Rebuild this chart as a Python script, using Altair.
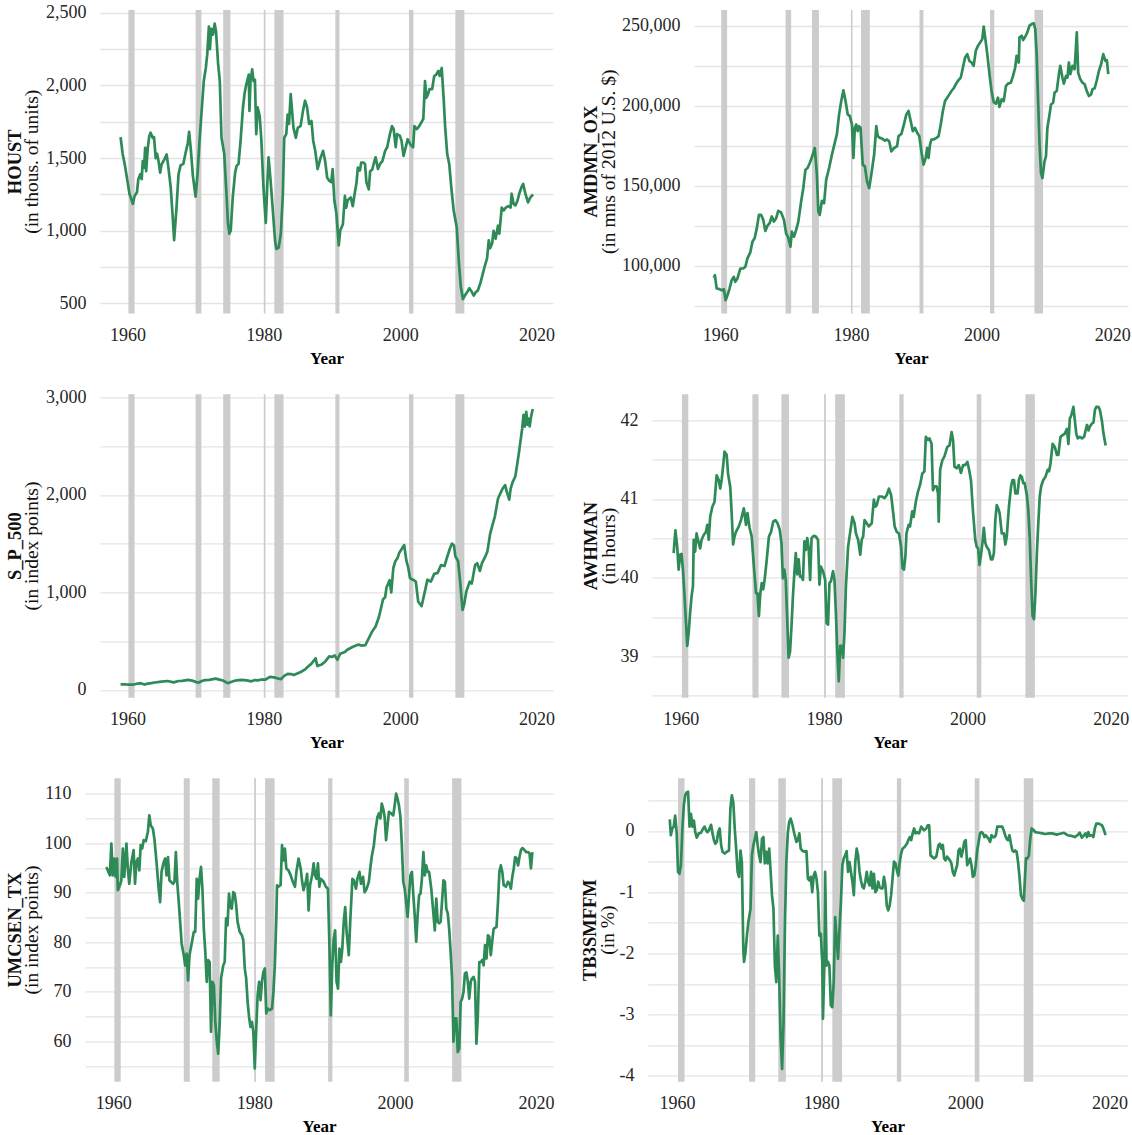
import altair as alt
import pandas as pd

FONT = "Liberation Serif"
LAB = "#262626"
GRID = "#e4e4e4"
LINE = "#2E8B57"
BAR = "#CCCCCC"

XDOM = [1955.98, 2022.42]
XTICKS = [1960, 1980, 2000, 2020]

REC_START = [1960.15, 1970.0, 1974.05, 1980.0, 1981.55, 1990.5, 2001.3, 2008.1]
REC_END = [1961.05, 1970.85, 1975.1, 1980.25, 1982.9, 1991.1, 2001.95, 2009.42]

HOUST = [[1959.0,1645],[1959.3,1530],[1959.6,1460],[1960.0,1345],[1960.3,1255],[1960.8,1185],[1961.05,1240],[1961.4,1265],[1961.6,1355],[1961.9,1390],[1962.1,1355],[1962.25,1480],[1962.45,1435],[1962.6,1570],[1962.75,1410],[1963.0,1575],[1963.2,1650],[1963.4,1675],[1963.7,1640],[1963.9,1645],[1964.15,1500],[1964.35,1530],[1964.6,1470],[1964.8,1400],[1965.0,1455],[1965.4,1490],[1965.75,1525],[1966.0,1440],[1966.35,1300],[1966.65,1090],[1966.85,935],[1967.2,1160],[1967.5,1390],[1967.8,1450],[1968.2,1460],[1968.55,1540],[1968.85,1600],[1969.05,1680],[1969.3,1560],[1969.6,1380],[1970.0,1235],[1970.3,1400],[1970.55,1600],[1970.85,1800],[1971.2,2030],[1971.5,2120],[1971.7,2210],[1971.95,2405],[1972.1,2250],[1972.3,2390],[1972.55,2350],[1972.8,2425],[1973.0,2370],[1973.3,2150],[1973.55,2030],[1973.8,1640],[1974.2,1530],[1974.5,1280],[1974.75,1050],[1974.95,980],[1975.15,1000],[1975.45,1230],[1975.8,1400],[1976.0,1445],[1976.3,1460],[1976.6,1620],[1976.95,1850],[1977.2,1950],[1977.45,2010],[1977.8,2075],[1977.9,1825],[1978.05,2030],[1978.3,2110],[1978.5,2030],[1978.7,2040],[1978.9,1665],[1979.1,1850],[1979.4,1790],[1979.65,1620],[1979.95,1300],[1980.3,1055],[1980.5,1300],[1980.7,1505],[1981.0,1345],[1981.3,1160],[1981.65,935],[1981.85,875],[1982.2,885],[1982.5,980],[1982.8,1255],[1983.0,1640],[1983.3,1665],[1983.5,1800],[1983.7,1735],[1983.95,1940],[1984.15,1825],[1984.35,1710],[1984.7,1640],[1985.0,1710],[1985.4,1720],[1985.75,1825],[1986.05,1895],[1986.35,1850],[1986.65,1735],[1987.0,1755],[1987.25,1620],[1987.55,1550],[1987.9,1425],[1988.35,1505],[1988.7,1550],[1989.0,1480],[1989.3,1365],[1989.6,1345],[1989.9,1335],[1990.1,1425],[1990.35,1210],[1990.65,1120],[1991.0,900],[1991.2,1000],[1991.6,1045],[1991.9,1240],[1992.1,1160],[1992.3,1210],[1992.75,1230],[1993.05,1170],[1993.4,1275],[1993.6,1330],[1993.8,1435],[1994.1,1415],[1994.3,1470],[1994.6,1470],[1994.85,1460],[1995.05,1335],[1995.4,1285],[1995.6,1410],[1995.9,1420],[1996.2,1475],[1996.4,1505],[1996.75,1425],[1997.05,1460],[1997.4,1480],[1997.8,1550],[1998.1,1575],[1998.5,1665],[1998.8,1720],[1999.05,1700],[1999.35,1575],[1999.55,1665],[1999.95,1655],[2000.2,1620],[2000.5,1515],[2000.8,1570],[2001.1,1630],[2001.5,1595],[2001.9,1575],[2002.1,1720],[2002.45,1700],[2002.8,1720],[2003.1,1745],[2003.4,1770],[2003.65,2030],[2003.85,1915],[2004.1,1940],[2004.3,1975],[2004.7,1975],[2005.0,2065],[2005.3,2075],[2005.6,2100],[2005.8,2065],[2006.1,2120],[2006.4,1895],[2006.6,1715],[2006.9,1530],[2007.2,1460],[2007.5,1300],[2007.85,1140],[2008.3,1025],[2008.6,795],[2008.9,615],[2009.2,530],[2009.5,555],[2009.8,575],[2010.15,605],[2010.5,580],[2010.8,555],[2011.1,578],[2011.4,589],[2011.8,645],[2012.1,700],[2012.4,755],[2012.75,810],[2013.0,935],[2013.2,880],[2013.5,915],[2013.7,1000],[2014.0,945],[2014.35,1035],[2014.55,980],[2014.9,1160],[2015.2,1140],[2015.5,1160],[2015.85,1170],[2016.2,1160],[2016.35,1255],[2016.65,1185],[2016.9,1175],[2017.2,1205],[2017.5,1260],[2017.8,1300],[2018.05,1322],[2018.4,1250],[2018.75,1195],[2019.1,1230],[2019.5,1250]]

AMDMNOX = [[1959.0,92500],[1959.18,94100],[1959.45,85800],[1959.89,85400],[1960.27,84700],[1960.55,85400],[1960.82,78500],[1961.1,81600],[1961.42,85800],[1961.75,91000],[1962.08,93100],[1962.3,90000],[1962.63,92100],[1963.07,98300],[1963.51,98300],[1963.84,99400],[1964.16,104600],[1964.6,108400],[1964.93,115100],[1965.26,117200],[1965.59,123400],[1965.92,131800],[1966.25,131800],[1966.58,128700],[1966.9,121800],[1967.23,125100],[1967.56,126600],[1967.89,130800],[1968.22,127600],[1968.55,129700],[1968.88,134300],[1969.32,133300],[1969.75,128700],[1970.08,120300],[1970.41,117600],[1970.74,111900],[1970.96,121300],[1971.29,118200],[1971.62,122400],[1971.95,127600],[1972.38,140200],[1972.71,148500],[1973.04,160000],[1973.37,161100],[1973.7,164200],[1974.03,167800],[1974.47,173600],[1974.79,156900],[1975.01,133900],[1975.23,131800],[1975.56,140600],[1975.89,139100],[1976.22,153800],[1976.66,161100],[1977.1,169500],[1977.53,176800],[1977.86,182400],[1978.19,194600],[1978.52,203000],[1978.85,209600],[1979.18,203000],[1979.51,194600],[1979.84,193500],[1980.16,188300],[1980.38,167400],[1980.6,186200],[1980.82,188300],[1981.04,184100],[1981.26,187200],[1981.48,186200],[1981.81,163200],[1982.14,162100],[1982.47,152700],[1982.79,148500],[1983.12,156900],[1983.56,169500],[1983.89,187200],[1984.11,181000],[1984.44,179900],[1984.77,179500],[1985.21,178200],[1985.53,178900],[1985.86,177800],[1986.19,171500],[1986.63,173600],[1987.07,174700],[1987.29,181000],[1987.73,182400],[1988.05,187200],[1988.49,194600],[1988.82,196700],[1989.15,190400],[1989.48,184100],[1989.81,186200],[1990.14,183100],[1990.47,181000],[1990.79,171500],[1991.12,163200],[1991.45,167400],[1991.67,173600],[1991.89,167400],[1992.11,175700],[1992.33,178900],[1992.66,178900],[1993.1,179900],[1993.42,181000],[1993.75,188300],[1994.08,196700],[1994.41,202900],[1994.74,205000],[1995.07,207100],[1995.4,209200],[1995.73,210900],[1996.05,213400],[1996.38,215500],[1996.82,217600],[1997.15,223900],[1997.48,230100],[1997.81,232200],[1998.14,228000],[1998.47,227000],[1998.79,224900],[1999.12,234300],[1999.45,237400],[1999.78,239500],[2000.11,241600],[2000.33,249400],[2000.55,242700],[2000.88,232200],[2001.21,219700],[2001.53,209200],[2001.86,202300],[2002.19,201300],[2002.52,205000],[2002.74,199200],[2003.07,204000],[2003.4,202900],[2003.73,212300],[2004.05,213800],[2004.49,214400],[2004.82,218600],[2005.15,223900],[2005.37,231200],[2005.7,227000],[2005.81,242700],[2006.14,243700],[2006.36,241000],[2006.68,243100],[2007.01,245800],[2007.34,250000],[2007.67,251000],[2008.0,251500],[2008.22,247900],[2008.44,232200],[2008.66,202900],[2008.88,175700],[2009.1,158000],[2009.32,154800],[2009.64,165300],[2009.86,168400],[2010.08,186200],[2010.41,194600],[2010.63,200800],[2010.96,201900],[2011.18,208200],[2011.51,209200],[2011.84,219700],[2012.05,224900],[2012.38,217600],[2012.6,213800],[2012.93,218600],[2013.15,217600],[2013.37,227000],[2013.59,219700],[2013.92,224900],[2014.25,222800],[2014.58,245800],[2014.79,220700],[2015.12,216500],[2015.45,214400],[2015.78,213400],[2016.11,209200],[2016.44,206100],[2016.77,207100],[2016.99,210300],[2017.32,210900],[2017.64,215900],[2017.97,221800],[2018.3,225900],[2018.63,232200],[2018.96,228000],[2019.18,228500],[2019.4,219700]]

SP500 = [[1959.0,57],[1959.6,58],[1960.0,56],[1960.8,54],[1961.5,66],[1961.95,70],[1962.5,56],[1963.0,65],[1963.5,70],[1964.0,77],[1965.0,86],[1965.9,92],[1966.8,78],[1967.5,92],[1968.0,93],[1968.9,104],[1969.5,96],[1970.4,75],[1971.0,95],[1971.4,101],[1972.0,103],[1972.9,117],[1973.5,106],[1974.0,97],[1974.7,70],[1975.2,82],[1975.6,92],[1976.0,98],[1976.8,103],[1977.5,99],[1978.2,89],[1978.7,102],[1979.1,98],[1979.7,108],[1980.2,105],[1980.9,135],[1981.5,129],[1982.5,110],[1983.0,145],[1983.5,165],[1984.0,163],[1984.4,153],[1985.0,172],[1985.5,187],[1986.0,208],[1986.5,240],[1987.0,270],[1987.6,325],[1987.85,245],[1988.5,262],[1989.0,290],[1989.6,345],[1990.0,338],[1990.4,355],[1990.8,310],[1991.2,372],[1991.9,390],[1992.2,410],[1993.0,440],[1993.9,465],[1994.3,455],[1994.9,460],[1995.4,530],[1995.9,600],[1996.4,650],[1996.9,750],[1997.5,930],[1997.8,950],[1998.0,1050],[1998.45,1125],[1998.7,1000],[1999.0,1250],[1999.3,1320],[1999.6,1350],[1999.9,1410],[2000.6,1485],[2000.9,1330],[2001.2,1250],[2001.45,1145],[2001.9,1130],[2002.3,1110],[2002.65,905],[2003.15,860],[2003.6,1000],[2004.0,1130],[2004.5,1110],[2005.0,1190],[2005.5,1200],[2006.0,1280],[2006.5,1270],[2006.8,1340],[2007.3,1450],[2007.6,1500],[2007.9,1480],[2008.1,1370],[2008.5,1320],[2008.8,1110],[2009.15,820],[2009.4,880],[2009.7,1008],[2010.2,1110],[2010.5,1090],[2011.0,1280],[2011.3,1300],[2011.7,1220],[2012.0,1300],[2012.5,1370],[2012.8,1420],[2013.2,1600],[2013.5,1680],[2013.9,1780],[2014.35,1960],[2014.6,2000],[2015.0,2060],[2015.4,2100],[2015.65,2030],[2016.0,1950],[2016.2,2060],[2016.5,2130],[2016.9,2190],[2017.4,2420],[2017.9,2680],[2018.1,2820],[2018.3,2700],[2018.5,2850],[2018.7,2720],[2018.9,2780],[2019.0,2700],[2019.2,2800],[2019.45,2880]]

AWHMAN = [[1959.0,40.31],[1959.25,40.6],[1959.5,40.39],[1959.7,40.10],[1959.9,40.29],[1960.1,40.30],[1960.3,40.10],[1960.5,39.80],[1960.7,39.46],[1960.9,39.13],[1961.1,39.30],[1961.3,39.55],[1961.5,39.76],[1961.7,39.89],[1961.8,40.48],[1962.0,40.33],[1962.2,40.56],[1962.4,40.48],[1962.7,40.37],[1962.9,40.48],[1963.2,40.54],[1963.5,40.58],[1963.7,40.67],[1963.9,40.48],[1964.1,40.77],[1964.4,40.90],[1964.7,40.96],[1965.0,41.30],[1965.3,41.24],[1965.5,41.13],[1965.7,41.24],[1965.9,41.41],[1966.1,41.60],[1966.4,41.56],[1966.6,41.32],[1966.9,41.15],[1967.1,40.82],[1967.3,40.42],[1967.5,40.52],[1967.7,40.58],[1968.1,40.65],[1968.4,40.73],[1968.8,40.88],[1969.1,40.67],[1969.3,40.82],[1969.6,40.63],[1969.9,40.52],[1970.2,40.14],[1970.5,39.80],[1970.7,39.80],[1970.9,39.51],[1971.1,39.80],[1971.3,39.93],[1971.5,39.85],[1971.7,39.97],[1972.0,40.23],[1972.3,40.52],[1972.6,40.58],[1972.9,40.71],[1973.2,40.73],[1973.5,40.69],[1973.8,40.61],[1974.05,40.44],[1974.25,39.99],[1974.45,40.10],[1974.65,39.97],[1974.85,39.47],[1975.05,38.98],[1975.25,39.06],[1975.45,39.38],[1975.65,39.76],[1975.85,40.06],[1976.05,40.31],[1976.25,40.04],[1976.45,40.23],[1976.65,40.01],[1976.85,40.01],[1977.05,39.97],[1977.25,40.46],[1977.45,40.35],[1977.65,40.50],[1977.85,40.37],[1978.05,39.97],[1978.25,40.50],[1978.55,40.53],[1978.85,40.52],[1979.15,40.48],[1979.35,39.91],[1979.55,40.14],[1979.85,40.08],[1980.15,39.97],[1980.35,39.42],[1980.55,39.40],[1980.75,39.93],[1980.95,39.95],[1981.25,40.08],[1981.45,39.97],[1981.65,39.55],[1981.85,39.04],[1982.05,38.68],[1982.25,39.13],[1982.45,39.13],[1982.65,38.98],[1982.85,39.30],[1983.05,39.89],[1983.35,40.39],[1983.65,40.58],[1983.95,40.77],[1984.25,40.69],[1984.45,40.56],[1984.75,40.48],[1985.05,40.29],[1985.25,40.48],[1985.45,40.52],[1985.65,40.73],[1985.95,40.69],[1986.25,40.65],[1986.65,40.69],[1986.95,40.99],[1987.15,40.90],[1987.35,40.92],[1987.65,41.03],[1988.05,41.03],[1988.45,41.01],[1988.75,41.05],[1989.05,41.13],[1989.35,41.05],[1989.55,40.90],[1989.85,40.65],[1990.15,40.58],[1990.45,40.56],[1990.75,40.39],[1990.95,40.12],[1991.15,40.10],[1991.35,40.27],[1991.5,40.56],[1991.8,40.67],[1992.0,40.65],[1992.3,40.84],[1992.5,40.77],[1992.8,40.96],[1993.1,41.09],[1993.4,41.18],[1993.7,41.32],[1994.0,41.35],[1994.2,41.79],[1994.5,41.75],[1994.7,41.77],[1995.0,41.70],[1995.2,41.11],[1995.4,41.16],[1995.7,41.16],[1995.9,41.07],[1996.0,40.71],[1996.2,41.37],[1996.5,41.49],[1996.8,41.54],[1997.0,41.60],[1997.2,41.66],[1997.5,41.68],[1997.8,41.85],[1998.0,41.75],[1998.2,41.41],[1998.5,41.39],[1998.8,41.43],[1999.1,41.33],[1999.4,41.43],[1999.7,41.43],[2000.0,41.47],[2000.2,41.39],[2000.5,41.24],[2000.8,40.82],[2001.1,40.48],[2001.3,40.39],[2001.5,40.37],[2001.7,40.16],[2001.9,40.29],[2002.1,40.44],[2002.3,40.63],[2002.5,40.44],[2002.7,40.39],[2003.0,40.35],[2003.3,40.23],[2003.5,40.23],[2003.7,40.31],[2003.9,40.73],[2004.1,40.92],[2004.3,40.88],[2004.5,40.82],[2004.8,40.56],[2005.1,40.56],[2005.3,40.42],[2005.5,40.52],[2005.8,40.90],[2006.1,41.16],[2006.3,41.24],[2006.5,41.24],[2006.7,41.07],[2007.0,41.07],[2007.2,41.24],[2007.4,41.30],[2007.6,41.28],[2007.8,41.20],[2008.0,41.20],[2008.3,41.05],[2008.5,40.86],[2008.7,40.52],[2008.9,39.97],[2009.1,39.51],[2009.3,39.47],[2009.5,39.80],[2009.7,40.31],[2009.9,40.69],[2010.1,41.03],[2010.3,41.16],[2010.6,41.24],[2010.9,41.28],[2011.2,41.37],[2011.4,41.35],[2011.6,41.45],[2011.9,41.70],[2012.2,41.66],[2012.5,41.56],[2012.7,41.56],[2013.0,41.79],[2013.3,41.81],[2013.6,41.83],[2013.9,41.89],[2014.1,41.70],[2014.3,42.02],[2014.5,42.06],[2014.8,42.17],[2015.0,42.0],[2015.2,41.83],[2015.4,41.77],[2015.7,41.79],[2016.0,41.77],[2016.3,41.79],[2016.5,41.87],[2016.7,41.94],[2016.9,41.87],[2017.1,41.92],[2017.4,41.96],[2017.6,41.97],[2017.8,42.13],[2018.0,42.17],[2018.3,42.17],[2018.5,42.13],[2018.8,41.98],[2019.0,41.83],[2019.3,41.68]]

UMCSENT = [[1959.01,95.2],[1959.31,94.2],[1959.51,93.5],[1959.72,99.9],[1959.92,93.5],[1960.13,96.9],[1960.33,93.2],[1960.53,96.9],[1960.64,90.5],[1960.94,91.5],[1961.14,92.5],[1961.35,98.9],[1961.55,93.2],[1961.86,99.9],[1962.06,94.9],[1962.26,91.8],[1962.57,96.2],[1962.88,98.6],[1963.08,91.8],[1963.28,96.2],[1963.49,96.9],[1963.69,94.5],[1963.89,99.6],[1964.10,98.9],[1964.30,100.6],[1964.61,100.4],[1964.91,102.3],[1965.11,105.6],[1965.32,103.6],[1965.62,102.9],[1965.83,100.9],[1966.13,96.2],[1966.44,90.8],[1966.64,88.1],[1966.85,94.2],[1967.15,96.2],[1967.36,96.9],[1967.56,93.5],[1967.76,97.2],[1967.97,92.5],[1968.17,92.2],[1968.48,91.8],[1968.68,92.2],[1968.88,98.2],[1969.09,91.8],[1969.29,88.1],[1969.49,84.1],[1969.70,79.7],[1970.00,77.4],[1970.21,75.3],[1970.41,77.7],[1970.61,72.3],[1970.82,77.4],[1971.12,79.7],[1971.43,82.1],[1971.63,82.1],[1971.84,92.8],[1972.04,88.8],[1972.24,92.8],[1972.45,95.2],[1972.65,90.8],[1972.85,82.7],[1973.06,78.0],[1973.26,72.0],[1973.47,76.4],[1973.67,76.0],[1973.87,61.9],[1974.08,72.0],[1974.28,71.3],[1974.48,63.9],[1974.69,59.9],[1974.89,57.5],[1975.09,63.2],[1975.30,72.7],[1975.60,75.3],[1975.81,76.0],[1976.01,84.8],[1976.21,83.4],[1976.42,89.8],[1976.62,87.1],[1976.82,86.8],[1977.03,90.1],[1977.23,89.8],[1977.44,87.5],[1977.64,84.1],[1977.94,82.1],[1978.25,81.4],[1978.45,80.4],[1978.66,74.7],[1978.86,72.7],[1979.07,67.9],[1979.27,64.9],[1979.47,62.9],[1979.68,63.9],[1979.88,61.9],[1980.08,54.5],[1980.29,62.6],[1980.49,69.3],[1980.70,72.0],[1980.90,68.3],[1981.10,72.0],[1981.31,74.0],[1981.51,74.7],[1981.71,65.6],[1981.92,66.6],[1982.22,66.3],[1982.53,66.6],[1982.73,70.0],[1982.93,75.3],[1983.14,84.8],[1983.24,91.5],[1983.44,91.2],[1983.75,91.5],[1983.95,99.6],[1984.16,96.5],[1984.36,98.9],[1984.56,94.9],[1984.87,94.5],[1985.18,93.5],[1985.48,92.2],[1985.79,91.2],[1985.99,94.2],[1986.30,96.9],[1986.60,94.9],[1986.81,92.2],[1987.01,90.5],[1987.32,92.2],[1987.52,93.8],[1987.72,86.4],[1987.93,91.5],[1988.23,93.5],[1988.44,95.9],[1988.64,93.5],[1988.84,92.8],[1989.05,95.9],[1989.25,91.2],[1989.45,92.8],[1989.86,92.2],[1990.17,91.2],[1990.47,90.8],[1990.68,79.4],[1990.88,65.2],[1991.08,75.3],[1991.29,80.7],[1991.49,82.4],[1991.69,72.0],[1991.90,70.6],[1992.10,78.7],[1992.31,76.0],[1992.51,78.7],[1992.71,84.1],[1992.92,87.1],[1993.12,82.1],[1993.43,77.4],[1993.63,84.1],[1993.94,92.8],[1994.14,92.5],[1994.45,90.8],[1994.65,92.8],[1994.95,94.2],[1995.16,91.8],[1995.46,93.2],[1995.67,90.1],[1995.97,90.8],[1996.28,92.2],[1996.48,94.9],[1996.68,97.2],[1996.99,99.6],[1997.19,102.3],[1997.50,105.3],[1997.70,106.0],[1997.91,105.0],[1998.11,108.0],[1998.31,107.0],[1998.52,105.3],[1998.72,100.6],[1998.93,103.6],[1999.13,106.3],[1999.44,106.0],[1999.74,105.6],[1999.94,107.6],[2000.15,110.0],[2000.35,109.0],[2000.55,107.6],[2000.76,105.3],[2000.96,99.6],[2001.16,92.2],[2001.37,90.8],[2001.57,88.1],[2001.78,85.1],[2001.98,89.5],[2002.18,93.5],[2002.39,94.2],[2002.59,89.5],[2002.79,85.4],[2003.00,80.1],[2003.20,85.4],[2003.41,89.5],[2003.61,89.8],[2003.81,92.8],[2004.02,98.2],[2004.22,93.5],[2004.42,95.5],[2004.63,94.2],[2004.83,94.2],[2005.14,90.8],[2005.34,87.5],[2005.64,82.4],[2005.85,88.8],[2006.05,84.1],[2006.26,83.8],[2006.46,84.1],[2006.66,88.1],[2006.87,92.5],[2007.07,92.2],[2007.27,86.8],[2007.48,85.8],[2007.68,82.7],[2007.89,78.0],[2008.09,72.7],[2008.29,59.9],[2008.50,64.6],[2008.70,64.6],[2008.90,57.8],[2009.11,58.5],[2009.31,67.9],[2009.52,68.6],[2009.72,70.0],[2009.92,73.7],[2010.13,73.9],[2010.33,72.0],[2010.53,68.6],[2010.74,72.0],[2010.94,72.7],[2011.14,73.0],[2011.35,72.0],[2011.55,59.5],[2011.75,65.2],[2011.96,76.0],[2012.16,76.0],[2012.37,76.4],[2012.57,75.3],[2012.77,79.4],[2012.98,76.7],[2013.18,81.4],[2013.38,81.1],[2013.59,77.4],[2013.79,80.1],[2013.99,82.7],[2014.40,83.1],[2014.61,88.1],[2014.81,94.2],[2015.01,95.5],[2015.22,94.2],[2015.42,91.5],[2015.73,91.2],[2016.03,92.2],[2016.24,91.8],[2016.44,90.8],[2016.64,93.2],[2016.85,94.9],[2017.05,97.2],[2017.25,96.9],[2017.46,95.5],[2017.66,97.2],[2017.87,98.6],[2018.07,99.0],[2018.38,98.6],[2018.58,98.2],[2018.88,98.2],[2019.09,97.9],[2019.29,94.9],[2019.49,98.2]]

TB3SMFFM = [[1959.0,0.19],[1959.15,-0.07],[1959.35,0.04],[1959.55,0.07],[1959.75,0.25],[1959.95,-0.02],[1960.15,-0.67],[1960.35,-0.70],[1960.55,-0.56],[1960.75,0.04],[1960.95,0.42],[1961.14,0.58],[1961.34,0.63],[1961.54,0.64],[1961.74,0.07],[1961.94,0.28],[1962.14,0.07],[1962.34,0.17],[1962.54,-0.02],[1962.74,-0.11],[1963.03,-0.04],[1963.33,-0.03],[1963.63,0.04],[1963.83,0.07],[1964.03,0.01],[1964.23,-0.02],[1964.43,0.01],[1964.73,0.10],[1964.93,-0.04],[1965.12,-0.15],[1965.32,-0.21],[1965.52,-0.18],[1965.72,-0.02],[1965.92,0.04],[1966.12,-0.23],[1966.32,-0.34],[1966.62,-0.37],[1966.92,-0.34],[1967.21,-0.32],[1967.41,0.37],[1967.61,0.58],[1967.81,0.47],[1968.01,0.04],[1968.21,-0.29],[1968.41,-0.67],[1968.61,-0.75],[1968.81,-0.32],[1969.0,-0.51],[1969.2,-1.93],[1969.3,-2.14],[1969.5,-1.98],[1969.7,-1.71],[1969.9,-1.49],[1970.2,-1.27],[1970.4,-0.40],[1970.6,-0.23],[1970.8,-0.13],[1971.0,-0.02],[1971.19,-0.23],[1971.39,-0.40],[1971.59,-0.51],[1971.79,-0.13],[1971.99,-0.10],[1972.19,-0.53],[1972.39,-0.34],[1972.59,-0.53],[1972.79,-0.29],[1972.99,-0.67],[1973.18,-1.05],[1973.38,-1.27],[1973.58,-2.20],[1973.78,-2.47],[1973.98,-1.71],[1974.18,-2.42],[1974.38,-3.40],[1974.58,-3.89],[1974.78,-3.13],[1974.98,-1.49],[1975.17,-0.51],[1975.37,-0.04],[1975.57,0.15],[1975.77,0.20],[1975.97,0.12],[1976.27,-0.04],[1976.57,-0.18],[1976.77,-0.15],[1976.97,-0.04],[1977.16,-0.29],[1977.36,-0.32],[1977.66,-0.34],[1977.96,-0.33],[1978.16,-0.78],[1978.36,-0.81],[1978.56,-0.75],[1978.76,-1.00],[1978.96,-0.73],[1979.15,-0.67],[1979.35,-0.78],[1979.55,-1.00],[1979.75,-1.71],[1979.95,-1.68],[1980.15,-2.14],[1980.25,-3.07],[1980.45,-2.14],[1980.55,-0.67],[1980.75,-2.20],[1980.95,-2.14],[1981.14,-2.20],[1981.34,-2.85],[1981.54,-2.88],[1981.74,-2.47],[1981.94,-1.41],[1982.14,-1.76],[1982.34,-2.09],[1982.54,-1.60],[1982.74,-1.16],[1982.94,-0.56],[1983.13,-0.45],[1983.33,-0.40],[1983.53,-0.33],[1983.73,-0.67],[1983.93,-0.51],[1984.13,-0.67],[1984.33,-0.83],[1984.53,-1.05],[1984.73,-0.51],[1984.93,-0.29],[1985.12,-0.40],[1985.32,-0.67],[1985.52,-0.81],[1985.72,-0.91],[1985.92,-0.94],[1986.12,-0.83],[1986.32,-0.67],[1986.52,-0.83],[1986.72,-0.89],[1986.92,-0.67],[1987.11,-0.94],[1987.31,-0.70],[1987.51,-1.00],[1987.71,-0.97],[1987.91,-0.83],[1988.11,-0.92],[1988.31,-0.94],[1988.51,-0.94],[1988.71,-0.75],[1988.91,-0.89],[1989.1,-1.22],[1989.3,-1.30],[1989.5,-1.22],[1989.7,-1.05],[1989.9,-0.78],[1990.1,-0.50],[1990.3,-0.53],[1990.5,-0.64],[1990.7,-0.73],[1990.9,-0.51],[1991.09,-0.37],[1991.29,-0.29],[1991.59,-0.26],[1991.89,-0.21],[1992.09,-0.15],[1992.29,-0.10],[1992.49,-0.15],[1992.69,-0.04],[1992.89,0.04],[1993.08,-0.04],[1993.28,-0.02],[1993.58,-0.04],[1993.88,0.07],[1994.08,0.04],[1994.28,0.01],[1994.58,0.04],[1994.78,0.09],[1994.98,0.09],[1995.17,-0.40],[1995.37,-0.42],[1995.67,-0.45],[1995.97,-0.42],[1996.27,-0.23],[1996.47,-0.21],[1996.67,-0.29],[1996.87,-0.23],[1997.06,-0.45],[1997.26,-0.48],[1997.46,-0.42],[1997.66,-0.45],[1997.86,-0.48],[1998.06,-0.53],[1998.26,-0.67],[1998.46,-0.73],[1998.66,-0.64],[1998.86,-0.56],[1999.05,-0.32],[1999.25,-0.29],[1999.45,-0.42],[1999.65,-0.32],[1999.85,-0.18],[2000.05,-0.15],[2000.25,-0.56],[2000.45,-0.51],[2000.65,-0.45],[2000.85,-0.56],[2001.04,-0.75],[2001.24,-0.73],[2001.44,-0.56],[2001.64,-0.32],[2001.84,-0.18],[2002.04,-0.04],[2002.24,-0.02],[2002.44,-0.04],[2002.64,-0.10],[2002.84,-0.07],[2003.03,-0.10],[2003.23,-0.13],[2003.43,-0.18],[2003.63,-0.07],[2003.83,-0.10],[2004.03,-0.10],[2004.23,-0.07],[2004.43,0.07],[2004.63,0.07],[2004.93,0.07],[2005.12,0.07],[2005.32,0.01],[2005.52,-0.07],[2005.72,-0.13],[2005.92,-0.15],[2006.12,-0.07],[2006.32,-0.21],[2006.52,-0.32],[2006.72,-0.34],[2006.92,-0.32],[2007.11,-0.34],[2007.31,-0.51],[2007.51,-0.75],[2007.71,-1.05],[2007.91,-1.11],[2008.11,-1.14],[2008.31,-0.67],[2008.41,-0.45],[2008.61,-0.45],[2008.81,-0.40],[2009.0,-0.13],[2009.2,0.04],[2009.5,0.01],[2009.7,-0.02],[2010.2,-0.03],[2010.7,-0.04],[2011.0,-0.05],[2011.69,-0.04],[2012.0,-0.04],[2012.69,-0.06],[2013.0,-0.05],[2013.68,-0.03],[2014.18,-0.07],[2014.68,-0.08],[2015.17,-0.10],[2015.57,-0.07],[2015.87,-0.03],[2016.17,-0.11],[2016.47,-0.07],[2016.67,-0.04],[2016.87,-0.10],[2017.06,-0.02],[2017.26,-0.08],[2017.56,-0.07],[2017.76,-0.10],[2017.96,0.04],[2018.16,0.12],[2018.46,0.12],[2018.66,0.11],[2018.96,0.09],[2019.15,0.04],[2019.45,-0.07]]


def frange(a, b, step):
    out = []
    v = a
    while v <= b + 1e-9:
        out.append(round(v, 6))
        v += step
    return out


PANELS = [
    dict(data=HOUST, name="HOUST", unit="(in thous. of units)", dom=[431, 2519],
         vals=frange(500, 2500, 250), major=500, fmt=",", w=453, t=(-85, -68)),
    dict(data=AMDMNOX, name="AMDMN_OX", unit="(in mns of 2012 U.S. $)", dom=[70200, 259800],
         vals=frange(75000, 250000, 25000), major=50000, fmt=",", w=434, t=(-103, -85.5)),
    dict(data=SP500, name="S_P_500", unit="(in index points)", dom=[-80, 3030],
         vals=frange(0, 3000, 500), major=1000, fmt=",", w=453, t=(-85, -68)),
    dict(data=AWHMAN, name="AWHMAN", unit="(in hours)", dom=[38.47, 42.33],
         vals=frange(38.5, 42, 0.5), major=1, fmt="d", w=476, t=(-60.7, -43.2)),
    dict(data=UMCSENT, name="UMCSEN_TX", unit="(in index points)", dom=[51.8, 113.1],
         vals=frange(55, 110, 5), major=10, fmt="d", w=468, t=(-70, -53)),
    dict(data=TB3SMFFM, name="TB3SMFFM", unit="(in %)", dom=[-4.1, 0.86],
         vals=frange(-4, 0.5, 0.5), major=1, fmt="raw", w=479, t=(-58, -40.5)),
]

H = 303.5


def make_panel(p):
    df = pd.DataFrame(p["data"], columns=["year", "value"])
    rec = pd.DataFrame({"start": REC_START, "end": REC_END})
    one = pd.DataFrame({"k": [0]})

    xscale = alt.Scale(domain=XDOM, nice=False, zero=False)
    xaxis = alt.Axis(values=XTICKS, format="d", title="Year", grid=False, domain=False,
                     ticks=False, tickSize=0, labelPadding=27, labelBaseline="alphabetic",
                     labelFlush=False, labelOverlap=False, labelFont=FONT, labelFontSize=18,
                     labelColor=LAB, titleFont=FONT, titleFontSize=17, titleFontWeight="bold",
                     titleColor="#000000", titleY=49.8, titleBaseline="alphabetic")
    if p["fmt"] == "raw":
        expr = "datum.value % 1 === 0 ? ('' + datum.value) : ''"
    else:
        expr = ("datum.value % " + str(p["major"]) + " === 0 ? format(datum.value, '"
                + p["fmt"] + "') : ''")
    yaxis = alt.Axis(values=p["vals"], labelExpr=expr, title=None, grid=True, gridColor=GRID,
                     gridWidth=1.3, domain=False, ticks=False, tickSize=0, labelPadding=14,
                     labelFont=FONT, labelFontSize=18, labelColor=LAB, labelOverlap=False)
    yscale = alt.Scale(domain=p["dom"], nice=False, zero=False)

    bars = alt.Chart(rec).mark_rect(color=BAR).encode(
        x=alt.X("start:Q", scale=xscale, axis=xaxis),
        x2="end:Q",
        y=alt.value(0), y2=alt.value(H),
    )
    line = alt.Chart(df).mark_line(color=LINE, strokeWidth=2.7, strokeJoin="round").encode(
        x=alt.X("year:Q", scale=xscale, axis=xaxis),
        y=alt.Y("value:Q", scale=yscale, axis=yaxis),
    )
    t1 = alt.Chart(one).mark_text(angle=270, font=FONT, fontSize=18.5, fontWeight="bold",
                                  color="#111111", align="center", baseline="middle").encode(
        x=alt.value(p["t"][0]), y=alt.value(H / 2), text=alt.value(p["name"]))
    t2 = alt.Chart(one).mark_text(angle=270, font=FONT, fontSize=19.5, color="#111111",
                                  align="center", baseline="middle").encode(
        x=alt.value(p["t"][1]), y=alt.value(H / 2), text=alt.value(p["unit"]))
    return alt.layer(bars, line, t1, t2).properties(width=p["w"], height=H)


def spacer():
    one = pd.DataFrame({"k": [0]})
    return alt.Chart(one).mark_rect(opacity=0).encode(
        x=alt.value(0), x2=alt.value(1), y=alt.value(0), y2=alt.value(1)
    ).properties(width=1, height=1)


charts = [make_panel(p) for p in PANELS]
SP = 27


def row(a, b):
    inner = alt.concat(a, b, columns=2, align="none", spacing=SP)
    return alt.concat(spacer(), inner, columns=2, align="none", spacing=0)


row1 = row(charts[0], charts[1])
row2 = row(charts[2], charts[3])
row3 = row(charts[4], charts[5])
top = alt.concat(row1, row2, columns=1, align="none", spacing=20.3)
chart = alt.concat(top, row3, columns=1, align="none", spacing=27.3).properties(
    padding={"left": 5, "top": 3, "right": 0, "bottom": 0},
    background="white",
).configure(font=FONT).configure_view(strokeWidth=0)

chart.save("out.html", embed_options={"renderer": "svg", "actions": False})
